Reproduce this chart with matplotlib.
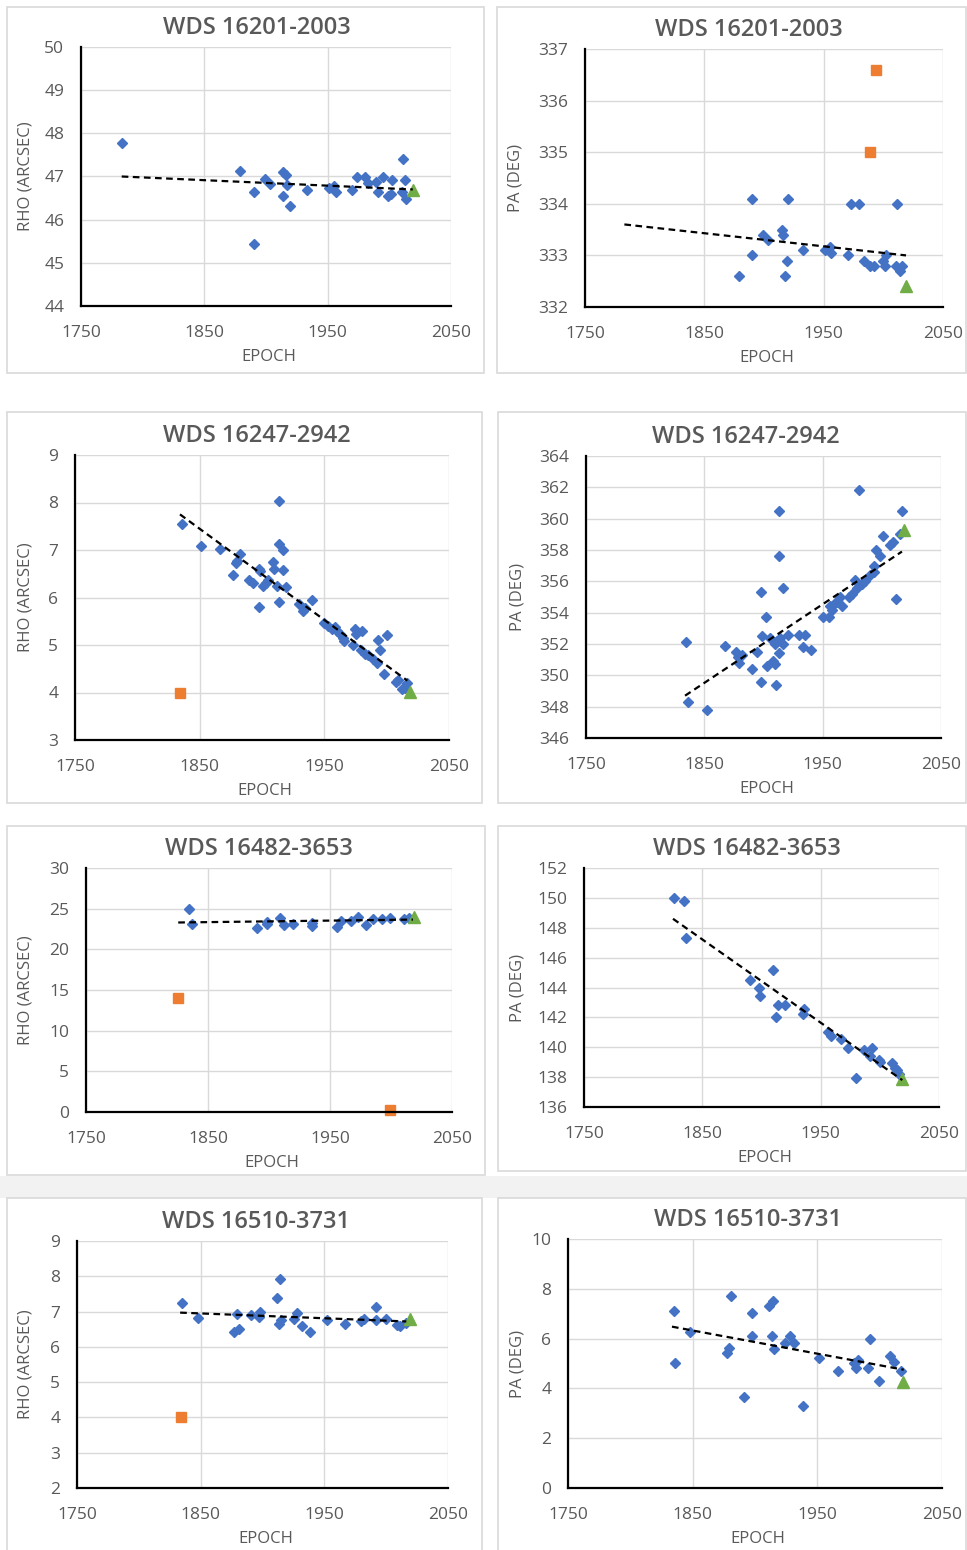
import numpy as np
import matplotlib
matplotlib.use("Agg")
import matplotlib.pyplot as plt
from matplotlib.patches import Rectangle

plt.rcParams['font.family'] = ['Open Sans', 'DejaVu Sans']

W, H = 967, 1550
TXT = "#595959"
BLUE, ORANGE, GREEN = "#4472C4", "#ED7D31", "#70AD47"

# ---- WDS 16201-2003 ----
rho1_x = [1783, 1879, 1890.5, 1890.5, 1899.5, 1903, 1914, 1916, 1914, 1917, 1919.5, 1933.5,
          1951, 1955.5, 1956.5, 1970, 1973.5, 1980, 1983, 1989, 1990.5, 1994.5, 1999, 2001,
          2002.5, 2010, 2011, 2012.5, 2013.5]
rho1_y = [47.78, 47.12, 46.63, 45.44, 46.95, 46.83, 47.11, 47.04, 46.54, 46.81, 46.32, 46.68,
          46.73, 46.78, 46.63, 46.68, 46.98, 46.98, 46.86, 46.88, 46.65, 46.98, 46.54, 46.60,
          46.91, 46.63, 47.40, 46.91, 46.48]
rho1_green = ([2019], [46.68])
rho1_trend = ([1783, 2019], [47.0, 46.7])

pa1_x = [1879, 1890, 1890, 1899, 1903, 1915, 1916, 1920.5, 1918, 1919, 1933, 1951, 1955, 1956,
         1970, 1973, 1980, 1984, 1989, 1992, 2000, 2002, 2001, 2011.7, 2011, 2014, 2016]
pa1_y = [332.6, 334.1, 333.0, 333.4, 333.3, 333.5, 333.4, 334.1, 332.6, 332.9, 333.1, 333.1,
         333.17, 333.04, 333.0, 334.0, 334.0, 332.9, 332.8, 332.8, 332.9, 333.0, 332.8, 334.0,
         332.8, 332.7, 332.8]
pa1_orange = ([1994, 1989], [336.6, 335.0])
pa1_green = ([2018.7], [332.4])
pa1_trend = ([1783, 2019], [333.6, 333.0])

# ---- WDS 16247-2942 ----
rho2_x = [1835.8, 1851, 1866.3, 1877, 1878.9, 1879.7, 1882.4, 1889.8, 1893, 1897.9, 1897.3,
          1898.4, 1901, 1903.2, 1905, 1909, 1909.6, 1911.8, 1913.4, 1913.9, 1913.6, 1916.6,
          1916.6, 1919.3, 1929.7, 1933.2, 1934.8, 1939.8, 1949.7, 1953.2, 1955.9, 1958.6,
          1960.4, 1962.6, 1965.2, 1965.8, 1972.7, 1974.6, 1975.4, 1980, 1979.1, 1982.6,
          1985.3, 1989.3, 1992, 1993.3, 1994.7, 1997.9, 2000.5, 2007.5, 2009.4, 2012,
          2014.7, 2016.6]
rho2_y = [7.54, 7.08, 7.03, 6.48, 6.73, 6.76, 6.92, 6.36, 6.31, 5.81, 6.61, 6.55, 6.24, 6.31,
          6.36, 6.75, 6.61, 6.24, 5.90, 8.03, 7.13, 7.0, 6.57, 6.22, 5.86, 5.71, 5.77, 5.94,
          5.46, 5.41, 5.34, 5.37, 5.29, 5.23, 5.15, 5.08, 5.0, 5.33, 5.23, 5.29, 4.90, 4.81,
          4.78, 4.71, 4.62, 5.11, 4.90, 4.39, 5.22, 4.23, 4.27, 4.08, 4.09, 4.20]
rho2_orange = ([1834.2], [4.0])
rho2_green = ([2018.7], [4.02])
rho2_trend = ([1834.2, 2016.6], [7.75, 4.25])

pa2_x = [1834.6, 1836.3, 1852.1, 1867.6, 1876.9, 1878.8, 1879.7, 1881.7, 1890.4, 1894.3,
         1897.7, 1898.6, 1897.7, 1901.7, 1902.8, 1905.1, 1907.9, 1909.9, 1910.2, 1909.9,
         1911.8, 1913.5, 1913.5, 1912.7, 1914.1, 1916.3, 1916.9, 1920.3, 1930.4, 1933.8,
         1935.2, 1940, 1950.2, 1955, 1956.4, 1957.8, 1960, 1962, 1964.8, 1966.2, 1971.9,
         1974.7, 1977.5, 1978.9, 1980.4, 1983.2, 1986, 1990.2, 1993, 1993.6, 1995.3, 1998.1,
         2000.6, 2007.1, 2009.4, 2012.2, 2015, 2017]
pa2_y = [352.1, 348.3, 347.8, 351.9, 351.5, 351.2, 350.8, 351.3, 350.4, 351.5, 355.3, 352.5,
         349.6, 353.7, 350.6, 352.4, 350.9, 350.7, 349.4, 352.0, 352.2, 360.5, 357.6, 351.4,
         352.4, 355.6, 352.0, 352.6, 352.6, 351.8, 352.6, 351.6, 353.7, 353.7, 354.4, 354.2,
         354.6, 354.7, 355.0, 354.4, 355.0, 355.2, 356.1, 355.6, 361.8, 355.8, 356.0, 356.4,
         357.0, 356.6, 358.0, 357.6, 358.9, 358.3, 358.5, 354.9, 359.0, 360.5]
pa2_green = ([2018.4], [359.3])
pa2_trend = ([1833.7, 2017], [348.7, 357.9])

# ---- WDS 16482-3653 ----
rho3_x = [1834.4, 1836.5, 1890.3, 1898, 1898, 1909.4, 1912.2, 1919.8, 1935.4, 1935.4, 1955.8,
          1959.4, 1967.6, 1973, 1979.9, 1985.3, 1992.7, 1999.5, 2010.4, 2014.8]
rho3_y = [25.0, 23.16, 22.67, 23.37, 23.08, 23.9, 22.96, 23.16, 22.84, 23.25, 22.75, 23.45,
          23.45, 23.98, 22.96, 23.78, 23.70, 23.86, 23.70, 23.86]
rho3_orange = ([1825.6, 1999], [14.0, 0.2])
rho3_green = ([2018.6], [24.0])
rho3_trend = ([1825.6, 2018], [23.3, 23.66])

pa3_x = [1826, 1834.5, 1836.5, 1890.6, 1897.9, 1898.5, 1909.7, 1912.5, 1913.9, 1919.9,
         1935.1, 1935.6, 1956.2, 1959, 1966.9, 1973.1, 1980.1, 1986.3, 1991.4, 1993.7,
         1999.3, 2000.4, 2010.6, 2012.5, 2014.5, 2016.2]
pa3_y = [150.0, 149.8, 147.3, 144.5, 144.0, 143.4, 145.2, 142.0, 142.85, 142.85, 142.25,
         142.58, 141.0, 140.75, 140.57, 139.95, 137.96, 139.8, 139.4, 139.95, 139.17, 139.0,
         138.94, 138.63, 138.45, 138.2]
pa3_green = ([2018.7], [137.9])
pa3_trend = ([1825.2, 2019], [148.6, 137.8])

# ---- WDS 16510-3731 ----
rho4_x = [1835, 1847.7, 1877.3, 1881.1, 1879.1, 1890.4, 1898, 1897.4, 1912, 1914.1, 1913.6,
          1914.9, 1925.4, 1927.5, 1931.6, 1938.3, 1951.8, 1967.1, 1980, 1981.9, 1991.6,
          1992.1, 1999.7, 2008.8, 2011, 2016.3]
rho4_y = [7.24, 6.81, 6.43, 6.50, 6.92, 6.91, 7.0, 6.86, 7.38, 7.92, 6.64, 6.76, 6.78, 6.95,
          6.58, 6.43, 6.75, 6.65, 6.72, 6.78, 6.75, 7.14, 6.78, 6.62, 6.58, 6.67]
rho4_orange = ([1834.2], [4.0])
rho4_green = ([2019], [6.78])
rho4_trend = ([1833.4, 2016.3], [6.97, 6.72])

pa4_x = [1834.8, 1835.6, 1847.6, 1877.5, 1878.9, 1881, 1890.9, 1897.6, 1897.6, 1911.5,
         1914.2, 1913.6, 1915, 1924.3, 1927.8, 1931, 1938.5, 1951.1, 1966.3, 1979.7, 1980.7,
         1982.6, 1990.6, 1992, 1999.2, 2008.6, 2011.2, 2017.1]
pa4_y = [7.10, 5.01, 6.28, 5.41, 5.61, 7.70, 3.65, 7.02, 6.11, 7.29, 7.51, 6.12, 5.59, 5.84,
         6.12, 5.82, 3.30, 5.21, 4.71, 5.01, 4.81, 5.15, 4.81, 5.99, 4.30, 5.32, 5.05, 4.68]
pa4_green = ([2018.7], [4.24])
pa4_trend = ([1833.4, 2019.3], [6.48, 4.75])

x_ticks = [1750, 1850, 1950, 2050]


def px_box(x0, y0, x1, y1):
    return [x0 / W, 1 - y1 / H, (x1 - x0) / W, (y1 - y0) / H]


def draw_panel(fig, plot_px, card_px, title, title_x, ylabel, ylim, ystep,
               blue, green, trend, orange=None):
    # card frame
    cx0, cy0, cx1, cy1 = card_px
    fig.add_artist(Rectangle((cx0 / W, 1 - cy1 / H), (cx1 - cx0) / W, (cy1 - cy0) / H,
                             transform=fig.transFigure, fill=True, facecolor="white",
                             edgecolor="#d9d9d9", linewidth=1.2, zorder=0))
    ax = fig.add_axes(px_box(*plot_px))
    ax.set_xlim(1750, 2050)
    ax.set_ylim(*ylim)
    ax.set_xticks(x_ticks)
    ax.set_yticks(np.arange(ylim[0], ylim[1] + ystep / 2, ystep))
    ax.grid(True, color="#d9d9d9", linewidth=1.0)
    ax.set_axisbelow(True)
    for s in ["top", "right"]:
        ax.spines[s].set_visible(False)
    for s in ["left", "bottom"]:
        ax.spines[s].set_color("black")
        ax.spines[s].set_linewidth(1.6)
        ax.spines[s].set_zorder(5)
    ax.tick_params(axis="x", length=0, pad=14, labelsize=12.5, labelcolor=TXT)
    ax.tick_params(axis="y", length=0, pad=12, labelsize=12.5, labelcolor=TXT)

    ax.plot(blue[0], blue[1], "D", color=BLUE, ms=5.6, zorder=3, clip_on=False)
    if orange is not None:
        ax.plot(orange[0], orange[1], "s", color=ORANGE, ms=7.5, zorder=3, clip_on=False)
    ax.plot(green[0], green[1], "^", color=GREEN, ms=8, zorder=3, clip_on=False)
    ax.plot(trend[0], trend[1], color="black", lw=1.6, ls=(0, (3, 2)), zorder=4)

    x0, y0, x1, y1 = plot_px
    fig.text(title_x / W, 1 - (y0 - 19) / H, title, ha="center", va="center",
             fontsize=17, fontweight="semibold", color=TXT)
    fig.text((card_px[0] + 19) / W, 1 - ((y0 + y1) / 2) / H, ylabel, rotation=90,
             ha="center", va="center", fontsize=12, color=TXT)
    fig.text(((x0 + x1) / 2 + 3) / W, 1 - (y1 + 51) / H, "EPOCH", ha="center",
             va="center", fontsize=12, color=TXT)
    return ax


def main():
    fig = plt.figure(figsize=(W / 100, H / 100), dpi=100, facecolor="white")
    fig.add_artist(Rectangle((0, 1 - 1198 / H), 1, 22 / H, transform=fig.transFigure,
                             facecolor="#f2f2f2", edgecolor="none", zorder=0))

    draw_panel(fig, (81, 47, 451, 306), (7, 7, 484, 373), "WDS 16201-2003", 257,
               "RHO (ARCSEC)", (44, 50), 1, (rho1_x, rho1_y), rho1_green, rho1_trend)
    draw_panel(fig, (585, 49, 943, 307), (497, 7, 966, 373), "WDS 16201-2003", 749,
               "PA (DEG)", (332, 337), 1, (pa1_x, pa1_y), pa1_green, pa1_trend, pa1_orange)
    draw_panel(fig, (75, 455, 449, 740), (7, 412, 482, 803), "WDS 16247-2942", 257,
               "RHO (ARCSEC)", (3, 9), 1, (rho2_x, rho2_y), rho2_green, rho2_trend, rho2_orange)
    draw_panel(fig, (586, 456, 941, 738), (498, 412, 966, 803), "WDS 16247-2942", 746,
               "PA (DEG)", (346, 364), 2, (pa2_x, pa2_y), pa2_green, pa2_trend)
    draw_panel(fig, (86, 868, 452, 1112), (7, 826, 485, 1175), "WDS 16482-3653", 259,
               "RHO (ARCSEC)", (0, 30), 5, (rho3_x, rho3_y), rho3_green, rho3_trend, rho3_orange)
    draw_panel(fig, (584, 868, 939, 1107), (498, 826, 966, 1171), "WDS 16482-3653", 747,
               "PA (DEG)", (136, 152), 2, (pa3_x, pa3_y), pa3_green, pa3_trend)
    draw_panel(fig, (77, 1241, 448, 1488), (7, 1198, 482, 1552), "WDS 16510-3731", 256,
               "RHO (ARCSEC)", (2, 9), 1, (rho4_x, rho4_y), rho4_green, rho4_trend, rho4_orange)
    draw_panel(fig, (568, 1239, 942, 1488), (498, 1198, 966, 1552), "WDS 16510-3731", 748,
               "PA (DEG)", (0, 10), 2, (pa4_x, pa4_y), pa4_green, pa4_trend)

    fig.savefig("out.png", dpi=100, facecolor=fig.get_facecolor())


if __name__ == "__main__":
    main()
